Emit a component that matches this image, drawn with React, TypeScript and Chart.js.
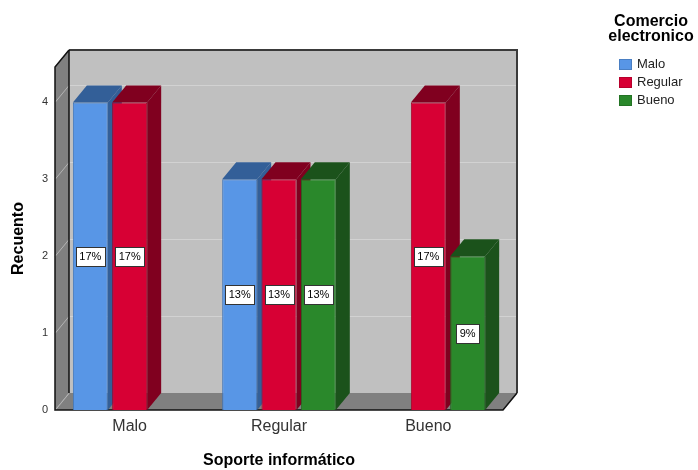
import { useEffect, useRef } from 'react';
import { Chart, registerables } from 'chart.js';

Chart.register(...registerables);

const categories = ['Malo', 'Regular', 'Bueno'];
const seriesNames = ['Malo', 'Regular', 'Bueno'];
const maloValues = [4, 3, null];
const regularValues = [4, 3, 4];
const buenoValues = [null, 3, 2];
const yTickValues = [0, 1, 2, 3, 4];
const legendTitle = ['Comercio', 'electronico'];
const xTitle = 'Soporte informático';
const yTitle = 'Recuento';

const frontColors = ['#5896e6', '#d70034', '#2a882b'];
const darkColors = ['#335f98', '#80001f', '#1b521b'];
const edgeColors = ['#3f74b8', '#a30028', '#1f6a20'];

const FONT = "'Liberation Sans', Arial, sans-serif";
const DX = 14;
const DY = 17;

const threeD = {
  id: 'threeD',
  beforeDatasetsDraw(chart: any) {
    const { ctx, chartArea } = chart;
    const { left: L, right: R, top: T, bottom: B } = chartArea;
    const yScale = chart.scales.y;
    ctx.save();
    // back wall
    ctx.fillStyle = '#c0c0c0';
    ctx.fillRect(L + DX, T - DY, R - L, B - T);
    // left wall
    ctx.fillStyle = '#808080';
    ctx.beginPath();
    ctx.moveTo(L, T);
    ctx.lineTo(L + DX, T - DY);
    ctx.lineTo(L + DX, B - DY);
    ctx.lineTo(L, B);
    ctx.closePath();
    ctx.fill();
    // floor
    ctx.beginPath();
    ctx.moveTo(L, B);
    ctx.lineTo(L + DX, B - DY);
    ctx.lineTo(R + DX, B - DY);
    ctx.lineTo(R, B);
    ctx.closePath();
    ctx.fill();
    // grid lines
    ctx.lineWidth = 1;
    for (const v of yTickValues) {
      const y = Math.round(yScale.getPixelForValue(v)) + 0.5;
      ctx.strokeStyle = '#d2d2d2';
      if (v > 0) {
        ctx.beginPath();
        ctx.moveTo(L + DX, y - DY);
        ctx.lineTo(R + DX, y - DY);
        ctx.stroke();
      }
      ctx.strokeStyle = '#b4b4b4';
      ctx.beginPath();
      ctx.moveTo(L, y);
      ctx.lineTo(L + DX, y - DY);
      ctx.stroke();
    }
    // edges
    ctx.strokeStyle = '#3a3a3a';
    ctx.lineWidth = 2;
    ctx.beginPath();
    ctx.moveTo(L + DX, T - DY);
    ctx.lineTo(R + DX, T - DY);
    ctx.lineTo(R + DX, B - DY);
    ctx.stroke();
    ctx.strokeStyle = '#111';
    ctx.lineWidth = 1.5;
    ctx.beginPath();
    ctx.moveTo(L + DX, T - DY);
    ctx.lineTo(L + DX, B - DY);
    ctx.stroke();
    ctx.beginPath();
    ctx.moveTo(L + DX, T - DY);
    ctx.lineTo(L, T);
    ctx.lineTo(L, B);
    ctx.lineTo(R, B);
    ctx.lineTo(R + DX, B - DY);
    ctx.stroke();

    // bar extrusions
    chart.data.datasets.forEach((ds: any, di: number) => {
      const meta = chart.getDatasetMeta(di);
      meta.data.forEach((bar: any, i: number) => {
        const v = ds.data[i];
        if (v === null || v === undefined) return;
        const { x, y, base, width } = bar.getProps(['x', 'y', 'base', 'width'], true);
        const l = x - width / 2;
        const r = x + width / 2;
        ctx.fillStyle = darkColors[di];
        ctx.beginPath();
        ctx.moveTo(r, y);
        ctx.lineTo(r + DX, y - DY);
        ctx.lineTo(r + DX, base - DY);
        ctx.lineTo(r, base);
        ctx.closePath();
        ctx.fill();
        ctx.beginPath();
        ctx.moveTo(l, y);
        ctx.lineTo(l + DX, y - DY);
        ctx.lineTo(r + DX, y - DY);
        ctx.lineTo(r, y);
        ctx.closePath();
        ctx.fill();
      });
    });
    ctx.restore();
  },
  afterDatasetsDraw(chart: any) {
    const { ctx } = chart;
    ctx.save();
    const total = chart.data.datasets.reduce(
      (s: number, ds: any) => s + ds.data.reduce((a: number, b: any) => a + (b || 0), 0),
      0
    );
    ctx.font = `11px ${FONT}`;
    ctx.textAlign = 'center';
    ctx.textBaseline = 'middle';
    chart.data.datasets.forEach((ds: any, di: number) => {
      const meta = chart.getDatasetMeta(di);
      meta.data.forEach((bar: any, i: number) => {
        const v = ds.data[i];
        if (v === null || v === undefined) return;
        const { x, y, base } = bar.getProps(['x', 'y', 'base'], true);
        const cy = (y + base) / 2;
        const txt = `${Math.round((v / total) * 100)}%`;
        const w = Math.round(ctx.measureText(txt).width + 7);
        const h = 19;
        const bx = Math.round(x - w / 2) + 0.5;
        const by = Math.round(cy - h / 2) + 0.5;
        ctx.fillStyle = '#ffffff';
        ctx.fillRect(bx, by, w, h);
        ctx.strokeStyle = '#333333';
        ctx.lineWidth = 1;
        ctx.strokeRect(bx, by, w, h);
        ctx.fillStyle = '#000000';
        ctx.fillText(txt, x, cy + 0.5);
      });
    });

    // legend
    ctx.fillStyle = '#000';
    ctx.font = `bold 16px ${FONT}`;
    ctx.textAlign = 'center';
    ctx.textBaseline = 'alphabetic';
    ctx.fillText(legendTitle[0], 651, 26);
    ctx.fillText(legendTitle[1], 651, 41);
    ctx.font = `13px ${FONT}`;
    ctx.textAlign = 'left';
    ctx.textBaseline = 'middle';
    seriesNames.forEach((name, i) => {
      const cy = 64.5 + i * 18;
      ctx.fillStyle = frontColors[i];
      ctx.fillRect(619, cy - 5.5, 13, 11);
      ctx.strokeStyle = 'rgba(0,0,0,0.15)';
      ctx.strokeRect(619.5, cy - 5, 12, 10);
      ctx.fillStyle = '#222';
      ctx.fillText(name, 637, cy);
    });
    ctx.restore();
  },
};

export default function App() {
  const canvasRef = useRef<HTMLCanvasElement | null>(null);
  useEffect(() => {
    const canvas = canvasRef.current;
    if (!canvas) return;
    const datasetsValues = [maloValues, regularValues, buenoValues];
    const chart = new Chart(canvas, {
      type: 'bar',
      data: {
        labels: categories,
        datasets: seriesNames.map((name, i) => ({
          label: name,
          data: datasetsValues[i],
          backgroundColor: frontColors[i],
          borderColor: edgeColors[i],
          borderWidth: 1,
          categoryPercentage: 0.79,
          barPercentage: 0.89,
        })),
      },
      options: {
        responsive: false,
        animation: false,
        devicePixelRatio: 1,
        layout: { padding: { top: 67, right: 195, left: 0, bottom: 0 } },
        plugins: {
          legend: { display: false },
          tooltip: { enabled: false },
        },
        scales: {
          x: {
            grid: { display: false, drawTicks: false, tickLength: 0 },
            border: { display: false },
            ticks: {
              padding: 7,
              color: '#333',
              font: { family: FONT, size: 16 },
            },
            title: {
              display: true,
              text: xTitle,
              color: '#000',
              font: { family: FONT, size: 16, weight: 'bold' },
              padding: { top: 0, bottom: 0 },
            },
            afterFit(scale: any) {
              scale.height = 60;
            },
          },
          y: {
            min: 0,
            max: 4.46,
            grid: { display: false, drawTicks: false, tickLength: 0 },
            border: { display: false },
            afterBuildTicks(scale: any) {
              scale.ticks = yTickValues.map((v) => ({ value: v }));
            },
            ticks: {
              padding: 7,
              color: '#333',
              font: { family: FONT, size: 11 },
            },
            title: {
              display: true,
              text: yTitle,
              color: '#000',
              font: { family: FONT, size: 16, weight: 'bold' },
              padding: { top: 9, bottom: 0 },
            },
            afterFit(scale: any) {
              scale.width = 55;
            },
          },
        },
      },
      plugins: [threeD],
    } as any);
    return () => chart.destroy();
  }, []);
  return (
    <div style={{ position: 'fixed', left: 0, top: 0, width: 698, height: 470, background: '#fff' }}>
      <canvas ref={canvasRef} width={698} height={470} style={{ width: 698, height: 470 }} />
    </div>
  );
}
